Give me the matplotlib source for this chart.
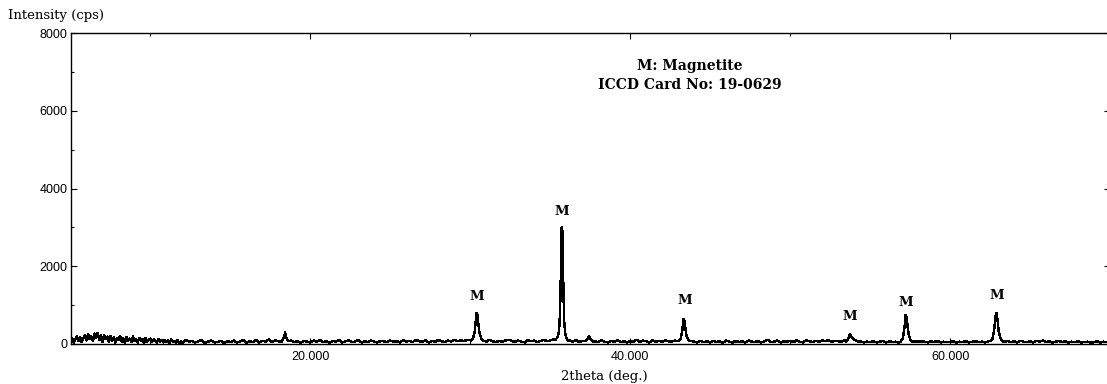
import numpy as np
import matplotlib
matplotlib.use('Agg')
import matplotlib.pyplot as plt
from matplotlib.ticker import MultipleLocator, FormatStrFormatter

# low-angle background, 0.1 deg steps from 5.0 to 11.9 deg (2theta)
bg_low_start = 5.0
bg_low_step = 0.1
bg_low_cps = [
    60, 150, 40, 120, 200, 70, 180, 50, 140, 230,
    90, 250, 120, 200, 80, 270, 150, 290, 100, 220,
    60, 240, 130, 190, 50, 210, 90, 170, 40, 160,
    110, 200, 60, 150, 30, 180, 80, 140, 50, 190,
    70, 130, 40, 160, 90, 120, 30, 150, 60, 110,
    140, 50, 120, 80, 30, 130, 60, 100, 40, 110,
    60, 90, 30, 120, 50, 80, 40, 100, 30, 70,
]

# background, 0.2 deg steps from 12.0 to 70.0 deg
bg_start = 12.0
bg_step = 0.2
bg_cps = [
    30, 110, 60, 80, 40, 70, 100, 30, 60, 90, 40, 50, 80, 30, 70,
    50, 90, 40, 60, 110, 30, 70, 50, 100, 40, 80, 60, 120, 50, 90, 70, 60, 100, 40, 90, 50, 70, 30, 80, 60,
    40, 90, 60, 110, 50, 70, 30, 80, 60, 100, 40, 70, 90, 50, 60, 110, 40, 70, 50, 90, 60, 40, 80, 70, 50,
    90, 60, 70, 40, 100, 60, 80, 50, 110, 70, 60, 90, 40, 80, 60, 100, 70, 50, 90, 60, 110, 70, 90, 80, 100,
    100, 90, 90, 90, 90, 60, 110, 70, 50, 80, 60, 90, 110, 80, 50, 90, 60, 40, 100, 70, 90, 50, 80, 110, 70,
    90, 120, 100, 100, 100, 100, 90, 60, 100, 50, 80, 80, 80, 80, 70, 50, 90, 60, 40, 80, 60, 100, 50, 70, 40,
    80, 60, 110, 50, 90, 70, 40, 100, 60, 80, 50, 90, 70, 60, 90, 80, 80, 80, 80, 80, 60, 40, 80, 50, 70,
    40, 80, 50, 70, 30, 90, 60, 40, 80, 50, 70, 40, 90, 60, 50, 80, 40, 70, 110, 50, 60, 90, 40, 70, 60,
    80, 50, 90, 60, 40, 100, 70, 50, 80, 60, 90, 70, 100, 60, 80, 70, 60, 90, 60, 60, 60, 60, 70, 40, 60,
    50, 70, 40, 60, 80, 40, 70, 50, 60, 30, 60, 60, 60, 60, 60, 60, 60, 60, 40, 70, 50, 80, 40, 60, 50,
    50, 70, 40, 60, 50, 80, 40, 60, 70, 50, 60, 40, 70, 90, 70, 70, 70, 60, 80, 50, 70, 40, 80, 60, 50,
    70, 40, 80, 60, 90, 50, 70, 40, 60, 80, 50, 70, 40, 60, 50, 70, 40, 50, 60, 30, 50, 70, 40, 60, 50,
    50,
]

# reflections (2theta, cps)
p18_x = [18.25, 18.35, 18.42, 18.5, 18.6]
p18_y = [90, 170, 300, 150, 70]
p30_x = [30.05, 30.18, 30.28, 30.35, 30.4, 30.45, 30.5, 30.58, 30.68, 30.78]
p30_y = [90, 150, 320, 640, 800, 740, 520, 280, 140, 80]
p35_x = [35.3, 35.45, 35.55, 35.62, 35.67, 35.71, 35.74, 35.77, 35.81, 35.86, 35.93, 36.02, 36.12]
p35_y = [100, 170, 330, 900, 2100, 3000, 2150, 2900, 1700, 650, 280, 150, 90]
p37_x = [37.2, 37.32, 37.42, 37.5, 37.6, 37.72]
p37_y = [70, 130, 190, 150, 90, 60]
p43_x = [43.0, 43.15, 43.25, 43.33, 43.39, 43.45, 43.52, 43.62, 43.75]
p43_y = [70, 120, 330, 640, 600, 420, 200, 110, 70]
p53_x = [53.5, 53.62, 53.72, 53.78, 53.88, 54.0, 54.15, 54.3]
p53_y = [60, 120, 250, 220, 150, 110, 80, 60]
p57_x = [56.9, 57.05, 57.15, 57.22, 57.28, 57.34, 57.42, 57.52, 57.65]
p57_y = [60, 140, 430, 745, 690, 460, 230, 110, 60]
p62_x = [62.5, 62.65, 62.76, 62.84, 62.9, 62.96, 63.04, 63.14, 63.28]
p62_y = [70, 130, 380, 700, 805, 640, 330, 150, 70]

peaks = [(p18_x, p18_y), (p30_x, p30_y), (p35_x, p35_y), (p37_x, p37_y),
         (p43_x, p43_y), (p53_x, p53_y), (p57_x, p57_y), (p62_x, p62_y)]

# magnetite labels (2theta, cps)
label_x = [30.4, 35.75, 43.4, 53.75, 57.25, 62.9]
label_y = [1210, 3420, 1130, 720, 1055, 1260]

# merge background and peak points into one scan
bg_x = np.concatenate([bg_low_start + bg_low_step * np.arange(len(bg_low_cps)),
                       bg_start + bg_step * np.arange(len(bg_cps))])
bg_y = np.array(bg_low_cps + bg_cps, dtype=float)
keep = np.ones(len(bg_x), dtype=bool)
for px, py in peaks:
    keep &= ~((bg_x >= min(px) - 1e-6) & (bg_x <= max(px) + 1e-6))
x = np.concatenate([bg_x[keep]] + [np.array(px) for px, py in peaks])
y = np.concatenate([bg_y[keep]] + [np.array(py, dtype=float) for px, py in peaks])
order = np.argsort(x)
x, y = x[order], y[order]

W, H = 1107, 384
fig = plt.figure(figsize=(W / 100.0, H / 100.0), dpi=100)
ax = fig.add_axes([70.5 / W, 40.0 / H, 1039.5 / W, 311.0 / H])

ax.plot(x, y, color='black', linewidth=1.0, antialiased=False)

ax.set_xlim(5, 70)
ax.set_ylim(0, 8000)

ax.xaxis.set_major_locator(MultipleLocator(20))
ax.xaxis.set_minor_locator(MultipleLocator(10))
ax.yaxis.set_major_locator(MultipleLocator(2000))
ax.yaxis.set_minor_locator(MultipleLocator(1000))
ax.xaxis.set_major_formatter(FormatStrFormatter('%.3f'))

ax.tick_params(which='both', direction='in', top=True, right=True, width=0.8, colors='black')
ax.tick_params(which='major', length=4.5)
ax.tick_params(which='minor', length=2.5)
ax.tick_params(axis='x', which='major', pad=5)
ax.tick_params(axis='y', which='major', pad=2)
for lab in ax.get_xticklabels() + ax.get_yticklabels():
    lab.set_fontfamily('Liberation Sans')
    lab.set_fontsize(9)
for sp in ax.spines.values():
    sp.set_linewidth(1.0)

ax.set_xlabel('2theta (deg.)', family='DejaVu Serif', fontsize=9.5)
ax.xaxis.set_label_coords(0.514, -0.085)
fig.text(8.0 / W, 1 - 16.0 / H, 'Intensity (cps)', family='DejaVu Serif', fontsize=9.5,
         ha='left', va='center')

for lx, ly in zip(label_x, label_y):
    ax.text(lx, ly, 'M', family='DejaVu Serif', fontweight='bold', fontsize=9.5,
            ha='center', va='center')

ax.text(43.75, 7150, 'M: Magnetite', family='DejaVu Serif', fontweight='bold',
        fontsize=10, ha='center', va='center')
ax.text(43.75, 6660, 'ICCD Card No: 19-0629', family='DejaVu Serif', fontweight='bold',
        fontsize=10, ha='center', va='center')

plt.savefig('out.png', dpi=100)
